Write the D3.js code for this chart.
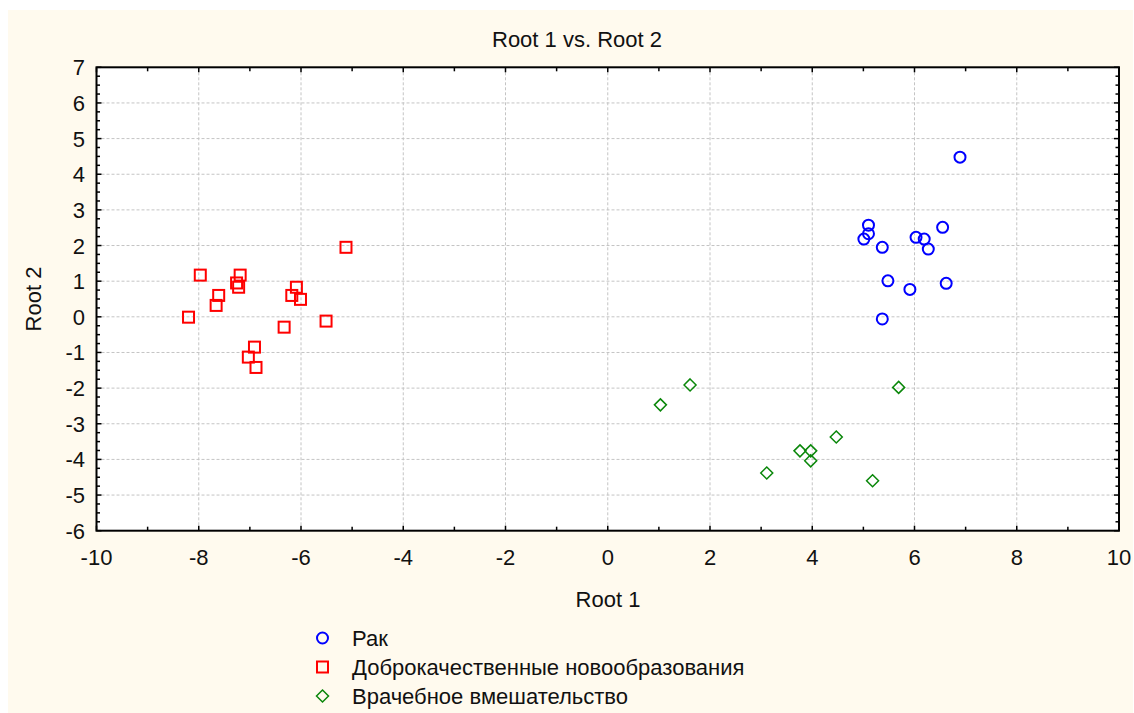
<!DOCTYPE html>
<html lang="ru">
<head>
  <meta charset="UTF-8">
  <title>Root 1 vs. Root 2</title>
  <script src="https://d3js.org/d3.v7.min.js"></script>
  <style>
    body { margin: 0; background: #fff; }
    svg { display: block; font-family: "Liberation Sans", Arial, sans-serif; }
    .grid line { stroke: #c4c4c4; stroke-width: 1; stroke-dasharray: 3 2; }
    .lbl { font-size: 22px; fill: #111; }
  </style>
</head>
<body>
  <svg width="1134" height="713"></svg>
  <script>
    // data: [Root 1, Root 2]
    const rak = [
      [6.89, 4.48], [5.10, 2.57], [5.10, 2.33], [5.01, 2.18], [5.37, 1.95],
      [6.03, 2.23], [6.19, 2.18], [6.27, 1.90], [6.55, 2.51], [5.48, 1.01],
      [5.91, 0.77], [6.62, 0.94], [5.37, -0.06]
    ];
    const benign = [
      [-5.12, 1.95], [-7.97, 1.17], [-7.19, 1.17], [-7.26, 0.95], [-7.22, 0.83],
      [-7.61, 0.60], [-7.66, 0.32], [-8.20, -0.01], [-6.18, 0.60], [-6.09, 0.83],
      [-6.01, 0.49], [-5.51, -0.12], [-6.33, -0.29], [-6.91, -0.85], [-7.03, -1.13],
      [-6.88, -1.42]
    ];
    const medical = [
      [1.61, -1.91], [1.03, -2.47], [5.69, -1.98], [4.47, -3.37], [3.76, -3.76],
      [3.97, -3.76], [3.97, -4.04], [3.11, -4.38], [5.18, -4.60]
    ];
    const legendLabels = ["Рак", "Доброкачественные новообразования", "Врачебное вмешательство"];
    const xTicks = [-10, -8, -6, -4, -2, 0, 2, 4, 6, 8, 10];
    const yTicks = [-6, -5, -4, -3, -2, -1, 0, 1, 2, 3, 4, 5, 6, 7];

    const svg = d3.select("svg");
    const pL = 96.5, pR = 1119, pT = 67.3, pB = 530.7;
    const x = d3.scaleLinear().domain([-10, 10]).range([pL, pR]);
    const y = d3.scaleLinear().domain([-6, 7]).range([pB, pT]);

    // cream backdrop and white plot area
    svg.append("rect").attr("x", 8).attr("y", 10).attr("width", 1125).attr("height", 703).attr("fill", "#fffaee");
    svg.append("rect").attr("x", pL).attr("y", pT).attr("width", pR - pL).attr("height", pB - pT).attr("fill", "#fff");

    // grid
    const grid = svg.append("g").attr("class", "grid");
    grid.selectAll(".gx").data(xTicks.slice(1, -1)).enter().append("line")
      .attr("x1", d => x(d)).attr("x2", d => x(d)).attr("y1", pT).attr("y2", pB);
    grid.selectAll(".gy").data(yTicks.slice(1, -1)).enter().append("line")
      .attr("y1", d => y(d)).attr("y2", d => y(d)).attr("x1", pL).attr("x2", pR);

    // inward ticks on all four sides
    const ticks = svg.append("g").attr("stroke", "#000").attr("stroke-width", 1.5);
    const xMinor = d3.range(-10, 10.001, 1);
    const yMinor = d3.range(-6, 7.001, 0.25);
    xMinor.forEach(v => {
      const len = v % 2 === 0 ? 5 : 4;
      ticks.append("line").attr("x1", x(v)).attr("x2", x(v)).attr("y1", pB).attr("y2", pB - len);
      ticks.append("line").attr("x1", x(v)).attr("x2", x(v)).attr("y1", pT).attr("y2", pT + len);
    });
    yMinor.forEach(v => {
      const len = Number.isInteger(v) ? 5 : 3.5;
      ticks.append("line").attr("y1", y(v)).attr("y2", y(v)).attr("x1", pL).attr("x2", pL + len);
      ticks.append("line").attr("y1", y(v)).attr("y2", y(v)).attr("x1", pR).attr("x2", pR - len);
    });

    // frame
    svg.append("rect").attr("x", pL).attr("y", pT).attr("width", pR - pL).attr("height", pB - pT)
      .attr("fill", "none").attr("stroke", "#000").attr("stroke-width", 2);

    // tick labels
    svg.append("g").selectAll("text").data(xTicks).enter().append("text")
      .attr("class", "lbl").attr("x", d => x(d)).attr("y", 565).attr("text-anchor", "middle")
      .text(d => d);
    svg.append("g").selectAll("text").data(yTicks).enter().append("text")
      .attr("class", "lbl").attr("x", 85).attr("y", d => y(d) + 8).attr("text-anchor", "end")
      .text(d => d);

    // titles
    svg.append("text").attr("class", "lbl").attr("x", 577).attr("y", 47).attr("text-anchor", "middle").text("Root 1 vs. Root 2");
    svg.append("text").attr("class", "lbl").attr("x", 608).attr("y", 607).attr("text-anchor", "middle").text("Root 1");
    svg.append("text").attr("class", "lbl").attr("transform", "translate(41,299) rotate(-90)").attr("text-anchor", "middle").text("Root 2");

    // markers
    const blue = "#0000ff", red = "#ff0000", green = "#0a870a";
    const pts = svg.append("g").attr("fill", "none");

    function drawCircle(g, cx, cy) {
      g.append("circle").attr("cx", cx).attr("cy", cy).attr("r", 5.5).attr("stroke", blue).attr("stroke-width", 2).attr("fill", "none");
    }
    function drawSquare(g, cx, cy) {
      g.append("rect").attr("x", cx - 5.5).attr("y", cy - 5.5).attr("width", 11).attr("height", 11)
        .attr("stroke", red).attr("stroke-width", 2).attr("fill", "none");
    }
    function drawDiamond(g, cx, cy) {
      g.append("path").attr("d", `M${cx},${cy - 6}L${cx + 6},${cy}L${cx},${cy + 6}L${cx - 6},${cy}Z`)
        .attr("stroke", green).attr("stroke-width", 1.5).attr("fill", "none");
    }

    benign.forEach(d => drawSquare(pts, x(d[0]), y(d[1])));
    medical.forEach(d => drawDiamond(pts, x(d[0]), y(d[1])));
    rak.forEach(d => drawCircle(pts, x(d[0]), y(d[1])));

    // legend
    const leg = svg.append("g");
    const drawers = [drawCircle, drawSquare, drawDiamond];
    legendLabels.forEach((t, i) => {
      const ly = 638 + i * 29;
      drawers[i](leg, 322.5, ly);
      leg.append("text").attr("class", "lbl").attr("x", 352).attr("y", ly + 8).text(t);
    });
  </script>
</body>
</html>
